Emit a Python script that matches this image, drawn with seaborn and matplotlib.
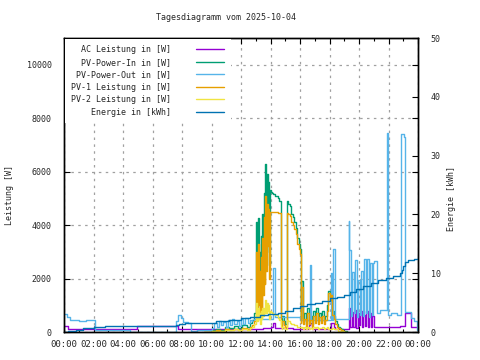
import matplotlib
matplotlib.use("Agg")
import matplotlib.pyplot as plt
import seaborn as sns
import pandas as pd
from matplotlib.ticker import MultipleLocator, FuncFormatter

title = "Tagesdiagramm vom 2025-10-04"
ylabel_left = "Leistung [W]"
ylabel_right = "Energie [kWh]"
labels = ["AC Leistung in [W]", "PV-Power-In in [W]", "PV-Power-Out in [W]",
          "PV-1 Leistung in [W]", "PV-2 Leistung in [W]", "Energie in [kWh]"]
colors = ["#9400d3", "#009e73", "#56b4e9", "#e69f00", "#f0e442", "#0072b2"]

# AC Leistung [W]
ac_t = [0.0, 0.3, 2.0, 2.1, 4.95, 7.7, 8.6, 13.0, 13.5, 14.0, 14.2, 14.3, 15.5, 16.6, 16.7, 16.8,
        18.1, 18.3, 18.4, 19.2, 19.3, 19.4, 19.5, 19.6, 19.7, 19.8, 19.9, 20.0, 20.1, 20.2, 20.3,
        20.4, 20.5, 20.6, 20.7, 20.8, 20.9, 21.0, 21.1, 22.8, 23.1, 23.5, 24.0]
ac_v = [230, 130, 110, 100, 240, 130, 95, 130, 150, 170, 350, 150, 120, 250, 350, 130,
        330, 200, 130, 120, 900, 180, 750, 200, 820, 160, 700, 250, 800, 180, 650,
        220, 780, 170, 720, 200, 600, 180, 200, 240, 700, 180, 130]

# PV-Power-Out [W]
out_t = [0.0, 0.2, 0.4, 1.0, 1.5, 2.1, 4.5, 7.6, 7.75, 7.9, 8.1, 8.4, 8.6, 9.0,
         10.0, 10.2, 10.35, 10.5, 10.65, 10.8, 10.95, 11.1, 11.25, 11.4, 11.55, 11.7, 11.85,
         12.0, 12.15, 12.3, 12.45, 12.6, 12.75, 12.9, 14.2, 14.3, 15.0, 16.0, 16.65, 16.75,
         18.1, 18.15, 18.25, 18.35, 19.3, 19.35, 19.45, 19.55, 19.65, 19.75, 19.85, 19.95,
         20.05, 20.15, 20.25, 20.35, 20.45, 20.55, 20.65, 20.75, 20.85, 20.95, 21.0,
         21.2, 21.4, 21.9, 21.95, 22.2, 22.6, 22.85, 23.05, 23.15, 23.5, 23.75, 23.95]
out_v = [680, 560, 450, 420, 460, 60, 0, 400, 620, 520, 380, 350, 30, 80,
         150, 350, 200, 420, 250, 380, 180, 450, 280, 500, 300, 400, 220,
         480, 300, 520, 350, 450, 400, 500, 2400, 550, 560, 450, 2500, 450,
         2200, 450, 3100, 470, 4150, 3050, 600, 2230, 700, 2680, 550, 1930, 650,
         2300, 600, 2750, 700, 2750, 550, 2600, 650, 2600, 2650,
         700, 840, 7460, 650, 720, 650, 7400, 7300, 730, 540, 430, 60]

# PV generation (shared time grid) [W]
gen_t = [9.5, 10.0, 10.3, 10.6, 10.9, 11.2, 11.5, 11.8, 12.1, 12.4,
         12.6, 12.75, 12.9, 13.0, 13.05, 13.1, 13.15, 13.2, 13.25, 13.3,
         13.35, 13.4, 13.45, 13.5, 13.55, 13.6, 13.65, 13.7, 13.75, 13.8,
         13.85, 13.9, 13.95, 14.0, 14.1, 14.2, 14.3, 14.4, 14.5, 14.6,
         14.7, 14.75, 14.8, 14.9, 15.0, 15.1, 15.2, 15.3, 15.4, 15.5,
         15.6, 15.7, 15.8, 15.9, 16.0, 16.05, 16.1, 16.2, 16.3, 16.4,
         16.5, 16.6, 16.7, 16.8, 16.9, 17.0, 17.1, 17.2, 17.3, 17.4,
         17.5, 17.6, 17.7, 17.8, 17.9, 18.0, 18.1, 18.2, 18.3, 18.4,
         18.5, 18.6, 18.7, 18.8, 18.9, 19.0, 19.2]
pv_in = [0, 60, 120, 90, 180, 140, 220, 160, 260, 200,
         330, 450, 700, 900, 4100, 1200, 4250, 1500, 3000, 800,
         3600, 1400, 4400, 2000, 5200, 2500, 6300, 3000, 5900, 4000,
         5600, 2500, 5300, 5250, 5200, 5150, 5100, 5100, 5000, 4900,
         500, 300, 600, 400, 300, 4900, 4800, 4700, 4400, 4300,
         4100, 3900, 3500, 3300, 3100, 500, 1900, 400, 700, 300,
         900, 400, 600, 300, 800, 500, 900, 400, 700, 500,
         800, 400, 600, 1000, 1550, 1300, 1500, 800, 600, 400,
         300, 200, 150, 100, 50, 20, 0]
pv1 = [0, 30, 70, 50, 100, 80, 120, 90, 150, 110,
       190, 250, 400, 600, 3000, 800, 3300, 1000, 2300, 500,
       2800, 900, 3500, 1400, 4300, 1800, 5100, 2300, 4800, 3200,
       4600, 2000, 4500, 4500, 4480, 4480, 4480, 4480, 4470, 4450,
       300, 200, 400, 250, 200, 4450, 4400, 4350, 4100, 4000,
       3850, 3650, 3300, 3100, 2900, 350, 1700, 300, 500, 200,
       700, 300, 450, 200, 600, 350, 700, 300, 550, 350,
       600, 300, 450, 800, 1450, 1200, 1400, 650, 500, 300,
       200, 150, 100, 60, 30, 10, 0]
pv2 = [0, 30, 50, 40, 80, 60, 100, 70, 110, 90,
       140, 200, 300, 300, 1100, 400, 900, 500, 700, 300,
       800, 500, 900, 600, 900, 700, 1200, 700, 1100, 800,
       1000, 500, 800, 750, 720, 670, 620, 620, 530, 450,
       200, 100, 200, 150, 100, 450, 400, 350, 300, 300,
       250, 250, 200, 200, 200, 150, 200, 100, 200, 100,
       200, 100, 150, 100, 200, 150, 200, 100, 150, 150,
       200, 100, 150, 200, 100, 100, 100, 150, 100, 100,
       100, 50, 50, 40, 20, 10, 0]

# Energie [kWh]
en_t = [0.0, 0.3, 0.8, 1.3, 2.0, 2.8, 3.9, 7.6, 7.8, 8.2, 9.5, 10.3, 11.2, 12.0, 12.6,
        13.3, 13.8, 14.5, 15.0, 15.5, 16.0, 16.5, 17.0, 17.5, 18.0, 18.5, 19.0, 19.4,
        19.8, 20.3, 20.8, 21.3, 21.8, 22.3, 22.8, 22.9, 23.0, 23.1, 23.3, 23.7, 24.0]
en_v = [0.0, 0.2, 0.35, 0.6, 0.8, 0.95, 1.1, 1.25, 1.4, 1.55, 1.6, 1.85, 2.1, 2.4, 2.6,
        2.9, 3.1, 3.3, 3.6, 4.0, 4.4, 4.7, 5.0, 5.3, 5.7, 6.0, 6.3, 6.8,
        7.3, 7.8, 8.3, 8.8, 9.2, 9.6, 10.1, 10.6, 11.3, 11.9, 12.2, 12.5, 12.7]

sns.set_theme(style="white")
plt.rcParams['font.family'] = ['DejaVu Sans Mono', 'DejaVu Sans']
plt.rcParams['font.size'] = 6

W, H = 480, 360
fig = plt.figure(figsize=(W / 100, H / 100), dpi=100)
L, R, T, B = 64, 418, 38, 332
ax = fig.add_axes([L / W, 1 - B / H, (R - L) / W, (B - T) / H])
ax2 = ax.twinx()

series = [(ac_t, ac_v), (gen_t, pv_in), (out_t, out_v), (gen_t, pv1), (gen_t, pv2)]
for (t, v), lab, col in zip(series, labels[:5], colors[:5]):
    df = pd.DataFrame({"t": t, "v": v})
    sns.lineplot(data=df, x="t", y="v", ax=ax, color=col, lw=1.0, drawstyle="steps-post",
                 estimator=None, sort=False, label=lab)
df_e = pd.DataFrame({"t": en_t, "v": en_v})
sns.lineplot(data=df_e, x="t", y="v", ax=ax2, color=colors[5], lw=1.0, drawstyle="steps-post",
             estimator=None, sort=False, label=labels[5])

for a in (ax, ax2):
    if a.get_legend() is not None:
        a.get_legend().remove()
    a.set_xlabel("")
    a.set_ylabel("")

ax.set_xlim(0, 24)
ax.set_ylim(0, 11000)
ax2.set_ylim(0, 50)

ax.xaxis.set_major_locator(MultipleLocator(2))
ax.xaxis.set_minor_locator(MultipleLocator(1))
ax.xaxis.set_major_formatter(FuncFormatter(lambda h, p: f"{int(round(h)) % 24:02d}:00"))
ax.yaxis.set_major_locator(MultipleLocator(2000))
ax2.yaxis.set_major_locator(MultipleLocator(10))

ax.tick_params(axis="x", which="both", direction="in", top=True, bottom=True,
               labelsize=6.5, pad=6, color="black")
ax.tick_params(axis="x", which="major", length=4, width=0.8)
ax.tick_params(axis="x", which="minor", length=2, width=0.8)
ax.tick_params(axis="y", which="major", direction="in", left=True, right=True, length=4,
               width=0.8, labelsize=6.0, pad=9, color="black", labelright=False)
ax2.tick_params(axis="y", which="major", direction="in", right=True, left=False, length=4,
                width=0.8, labelsize=6.0, pad=9, color="black")

ax.grid(True, which="major", color="#a0a0a0", linestyle=(0, (2, 3.5)), linewidth=0.9)
ax.set_axisbelow(True)
for a in (ax, ax2):
    for s in a.spines.values():
        s.set_color("black")
        s.set_linewidth(1.0)

fig.text(226 / W, 1 - 18 / H, title, ha="center", va="center", fontsize=6.0)
fig.text(10 / W, 1 - 195 / H, ylabel_left, ha="center", va="center", rotation=90, fontsize=6.0)
fig.text(452 / W, 1 - 198 / H, ylabel_right, ha="center", va="center", rotation=90, fontsize=6.0)

handles = ax.get_lines()[:5] + ax2.get_lines()[:1]
leg = ax2.legend(handles, labels, loc="upper left", bbox_to_anchor=(0.002, 0.997),
                 frameon=True, markerfirst=False, fontsize=6.0, handlelength=3.4,
                 handletextpad=3.0, labelspacing=0.42, borderpad=0.75, borderaxespad=0,
                 fancybox=False)
leg.get_frame().set_facecolor("white")
leg.get_frame().set_edgecolor("none")
leg.get_frame().set_alpha(1.0)

fig.savefig("out.png", dpi=100)
